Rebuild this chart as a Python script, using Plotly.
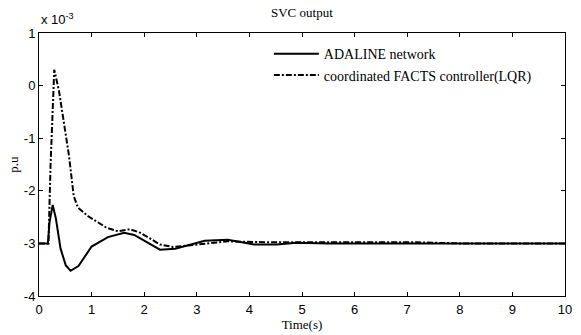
import plotly.graph_objects as go

# Time (s) and values (x 10^-3 p.u.)
t_adaline = [0, 0.17, 0.2, 0.26, 0.32, 0.41, 0.51, 0.6, 0.75, 1.0, 1.31, 1.62, 1.81, 2.06, 2.3, 2.59,
             3.15, 3.59, 4.09, 4.52, 4.9, 5.5, 6.0, 7.0, 8.0, 10.0]
v_adaline = [-3, -3, -2.6, -2.27, -2.52, -3.1, -3.42, -3.52, -3.43, -3.06, -2.88, -2.8, -2.84, -2.98, -3.12, -3.1,
             -2.95, -2.93, -3.02, -3.02, -2.99, -3.0, -3.0, -3.0, -3.0, -3.0]

t_lqr = [0, 0.18, 0.22, 0.29, 0.38, 0.47, 0.57, 0.66, 0.74, 0.93, 1.28, 1.5, 1.73, 1.93, 2.3, 2.55,
         3.15, 3.59, 4.39, 4.9, 5.5, 6.3, 7.2, 8.0, 10.0]
v_lqr = [-3, -3, -1.5, 0.3, -0.1, -0.72, -1.33, -2.1, -2.32, -2.48, -2.7, -2.77, -2.73, -2.8, -3.02, -3.07,
         -3.01, -2.96, -2.98, -2.98, -2.98, -2.99, -2.98, -3.0, -3.0]

x_ticks = list(range(0, 11))
y_ticks = [1, 0, -1, -2, -3, -4]
y_ticktext = ["1", "0", "-1", "-2", "-3", "-4"]

serif = "Liberation Serif, Times New Roman, serif"
sans = "Liberation Sans, Arial, sans-serif"

fig = go.Figure()
fig.add_trace(go.Scatter(x=t_adaline, y=v_adaline, mode="lines", name="ADALINE network",
                         line=dict(color="black", width=2)))
fig.add_trace(go.Scatter(x=t_lqr, y=v_lqr, mode="lines", name="coordinated FACTS controller(LQR)",
                         line=dict(color="black", width=2, dash="6px,2px,2px,2px")))

axis_common = dict(showline=True, mirror="ticks", linecolor="black", linewidth=1,
                   ticks="inside", ticklen=4, tickcolor="black", showgrid=False, zeroline=False,
                   tickfont=dict(family=sans, size=13, color="black"))

fig.update_layout(
    width=581, height=335,
    margin=dict(l=39, r=9, t=33, b=32),
    paper_bgcolor="white", plot_bgcolor="white",
    showlegend=True,
    legend=dict(x=0.437, y=0.98, xanchor="left", yanchor="top", bgcolor="rgba(0,0,0,0)",
                font=dict(family=serif, size=14, color="black"), tracegroupgap=0, itemwidth=45),
    xaxis=dict(range=[0, 10], tickvals=x_ticks, ticktext=[str(v) for v in x_ticks],
               ticklabelstandoff=1,
               title=dict(text="Time(s)", font=dict(family=serif, size=13, color="black"), standoff=0),
               **axis_common),
    yaxis=dict(range=[-4, 1], tickvals=y_ticks, ticktext=y_ticktext,
               title=dict(text="p.u", font=dict(family=serif, size=13, color="black"), standoff=2),
               **axis_common),
    annotations=[
        dict(text="SVC output", x=0.5, y=1, xref="paper", yref="paper", xanchor="center", yanchor="bottom",
             yshift=11, showarrow=False, font=dict(family=serif, size=13, color="black")),
        dict(text="x 10<sup>-3</sup>", x=0, y=1, xref="paper", yref="paper", xanchor="left", yanchor="bottom",
             yshift=4, showarrow=False, font=dict(family=sans, size=13, color="black")),
    ],
)

fig.write_html("out.html")
